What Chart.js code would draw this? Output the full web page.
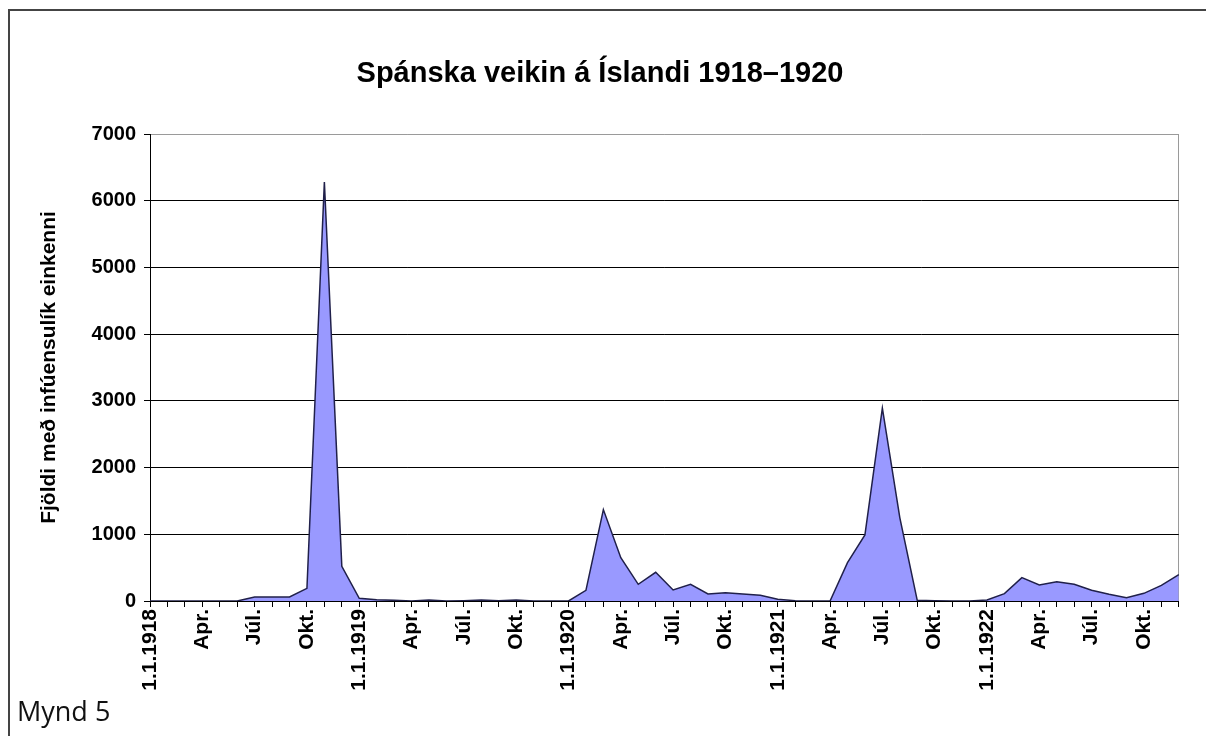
<!DOCTYPE html>
<html>
<head>
<meta charset="utf-8">
<script src="https://cdn.jsdelivr.net/npm/chart.js@4.4.1/dist/chart.umd.min.js"></script>
<style>
html,body{margin:0;padding:0;background:#fff;}
#wrap{position:relative;width:1206px;height:736px;overflow:hidden;background:#fff;}
#frame{position:absolute;left:8px;top:9px;width:1300px;height:900px;border-left:2px solid #444;border-top:2px solid #444;}
canvas{position:absolute;left:0;top:0;}
#note{position:absolute;left:17px;top:693px;font-family:'Open Sans',sans-serif;font-size:27px;color:#111;line-height:36px;}
</style>
</head>
<body>
<div id="wrap">
  <div id="frame"></div>
  <canvas id="c" width="1206" height="736"></canvas>
  <div id="note">Mynd 5</div>
</div>
<script>
// Months, January 1918 to December 1922
const categories = [
  '1918-01','1918-02','1918-03','1918-04','1918-05','1918-06','1918-07','1918-08','1918-09','1918-10','1918-11','1918-12',
  '1919-01','1919-02','1919-03','1919-04','1919-05','1919-06','1919-07','1919-08','1919-09','1919-10','1919-11','1919-12',
  '1920-01','1920-02','1920-03','1920-04','1920-05','1920-06','1920-07','1920-08','1920-09','1920-10','1920-11','1920-12',
  '1921-01','1921-02','1921-03','1921-04','1921-05','1921-06','1921-07','1921-08','1921-09','1921-10','1921-11','1921-12',
  '1922-01','1922-02','1922-03','1922-04','1922-05','1922-06','1922-07','1922-08','1922-09','1922-10','1922-11','1922-12'
];
const tickLabels = [
  '1.1.1918','','','Apr.','','','Júl.','','','Okt.','','',
  '1.1.1919','','','Apr.','','','Júl.','','','Okt.','','',
  '1.1.1920','','','Apr.','','','Júl.','','','Okt.','','',
  '1.1.1921','','','Apr.','','','Júl.','','','Okt.','','',
  '1.1.1922','','','Apr.','','','Júl.','','','Okt.','',''
];
const cases = [
  0, 0, 0, 0, 0, 0, 60, 60, 60, 190, 6280, 520,
  40, 20, 10, 0, 15, 0, 5, 15, 5, 15, 0, 0,
  0, 160, 1370, 650, 250, 430, 165, 250, 105, 125, 105, 85,
  25, 5, 0, 0, 575, 990, 2890, 1250, 10, 5, 0, 0,
  15, 110, 350, 240, 290, 250, 160, 100, 50, 115, 235, 395
];
const yMin = 0, yMax = 7000, yStep = 1000;
const titleText = 'Spánska veikin á Íslandi 1918–1920';
const yTitleText = 'Fjöldi með infúensulík einkenni';

Chart.defaults.font.family = "'Liberation Sans', Arial, sans-serif";
Chart.defaults.color = '#000';

new Chart(document.getElementById('c'), {
  type: 'line',
  data: {
    labels: categories,
    datasets: [{
      data: cases,
      borderColor: '#20204a',
      borderWidth: 1.5,
      backgroundColor: '#9999ff',
      fill: 'origin',
      pointRadius: 0,
      pointHoverRadius: 0,
      tension: 0
    }]
  },
  options: {
    responsive: false,
    animation: false,
    devicePixelRatio: 1,
    layout: { padding: { left: 20, right: 26, top: 0, bottom: 0 } },
    plugins: {
      legend: { display: false },
      tooltip: { enabled: false },
      title: {
        display: true,
        text: titleText,
        color: '#000',
        font: { size: 29, weight: 'bold' },
        padding: { top: 57, bottom: 42.2 }
      }
    },
    scales: {
      x: {
        type: 'category',
        offset: false,
        afterFit: s => { s.height = 135; },
        border: { color: '#000', width: 1 },
        grid: {
          drawOnChartArea: true,
          color: c => (c.index === categories.length - 1 ? '#9a9a9a' : 'rgba(0,0,0,0)'),
          tickColor: '#000',
          tickLength: 6,
          lineWidth: 1
        },
        ticks: {
          autoSkip: false,
          maxRotation: 90,
          minRotation: 90,
          padding: 2,
          color: '#000',
          font: { size: 21, weight: 'bold' },
          callback: (v, i) => tickLabels[i]
        }
      },
      y: {
        min: yMin,
        max: yMax,
        afterFit: s => { s.width = 130; },
        border: { color: '#000', width: 1 },
        grid: {
          color: c => (c.tick && c.tick.value === yMax ? '#9a9a9a' : '#000'),
          tickColor: '#000',
          tickLength: 6,
          lineWidth: 1
        },
        ticks: {
          stepSize: yStep,
          padding: 8,
          color: '#000',
          font: { size: 20, weight: 'bold' },
          callback: v => String(v)
        },
        title: {
          display: true,
          text: yTitleText,
          color: '#000',
          font: { size: 21, weight: 'bold' },
          padding: { top: 17, bottom: 0 }
        }
      }
    }
  }
});
</script>
</body>
</html>
